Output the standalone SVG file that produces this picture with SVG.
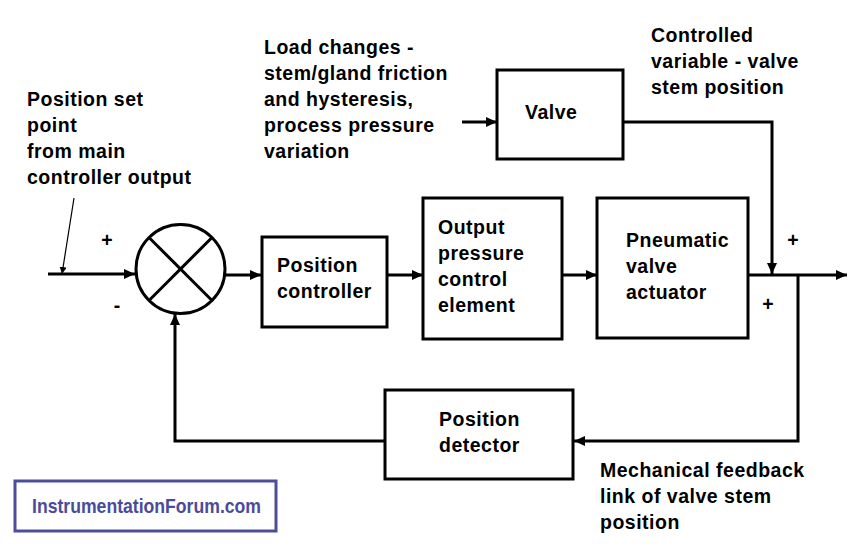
<svg xmlns="http://www.w3.org/2000/svg" width="861" height="558" viewBox="0 0 861 558">
<style>
.box{fill:#fff;stroke:#000;stroke-width:3}
.ln{fill:none;stroke:#000;stroke-width:3}
.t{font-family:"Liberation Sans",Arial,sans-serif;font-weight:bold;font-size:19.5px;letter-spacing:0.5px;fill:#000}
.sg{font-family:"Liberation Sans",Arial,sans-serif;font-weight:bold;font-size:19.5px;fill:#000}
</style>
<defs>
<marker id="ah" markerUnits="userSpaceOnUse" markerWidth="12" markerHeight="10" refX="11" refY="5" orient="auto">
<path d="M0,0 L11,5 L0,10 z" fill="#000"/>
</marker>
<marker id="ahs" markerUnits="userSpaceOnUse" markerWidth="8" markerHeight="8" refX="7" refY="3.5" orient="auto">
<path d="M0,0 L7,3.5 L0,7 z" fill="#000"/>
</marker>
</defs>
<rect width="861" height="558" fill="#fff"/>

<g id="connectors">
<line class="ln" x1="48" y1="274" x2="135" y2="274" marker-end="url(#ah)"/>
<line x1="74" y1="198" x2="62" y2="274" stroke="#000" stroke-width="1.2" marker-end="url(#ahs)"/>
<line class="ln" x1="225" y1="275" x2="261" y2="275" marker-end="url(#ah)"/>
<line class="ln" x1="387" y1="275" x2="423" y2="275" marker-end="url(#ah)"/>
<line class="ln" x1="562" y1="275" x2="597" y2="275" marker-end="url(#ah)"/>
<line class="ln" x1="748" y1="275" x2="847" y2="275" marker-end="url(#ah)"/>
<line class="ln" x1="462" y1="122" x2="497" y2="122" marker-end="url(#ah)"/>
<polyline class="ln" points="623,122 772,122 772,274" marker-end="url(#ah)"/>
<polyline class="ln" points="798,275 798,441 574,441" marker-end="url(#ah)"/>
<polyline class="ln" points="385,441 175,441 175,314" marker-end="url(#ah)"/>
</g>

<g id="summing-junction">
<circle cx="180.5" cy="269" r="44.5" fill="#fff" stroke="#000" stroke-width="3"/>
<line class="ln" x1="149" y1="237.5" x2="212" y2="300.5"/>
<line class="ln" x1="212" y1="237.5" x2="149" y2="300.5"/>
<text class="sg" x="107" y="247" text-anchor="middle">+</text>
<text class="sg" x="117" y="312" text-anchor="middle">-</text>
</g>

<g id="setpoint-label">
<text class="t" x="27" y="106"><tspan x="27">Position set</tspan><tspan x="27" dy="26">point</tspan><tspan x="27" dy="26">from main</tspan><tspan x="27" dy="26">controller output</tspan></text>
</g>

<g id="load-label">
<text class="t" x="264" y="54"><tspan x="264">Load changes -</tspan><tspan x="264" dy="26">stem/gland friction</tspan><tspan x="264" dy="26">and hysteresis,</tspan><tspan x="264" dy="26">process pressure</tspan><tspan x="264" dy="26">variation</tspan></text>
</g>

<g id="controlled-label">
<text class="t" x="651" y="42"><tspan x="651">Controlled</tspan><tspan x="651" dy="26">variable - valve</tspan><tspan x="651" dy="26">stem position</tspan></text>
</g>

<g id="valve">
<rect class="box" x="497" y="70" width="126" height="89"/>
<text class="t" x="525" y="119">Valve</text>
</g>

<g id="position-controller">
<rect class="box" x="262" y="237" width="125" height="90"/>
<text class="t" x="277" y="272"><tspan x="277">Position</tspan><tspan x="277" dy="26">controller</tspan></text>
</g>

<g id="output-pressure">
<rect class="box" x="423" y="198" width="139" height="141"/>
<text class="t" x="438" y="234"><tspan x="438">Output</tspan><tspan x="438" dy="26">pressure</tspan><tspan x="438" dy="26">control</tspan><tspan x="438" dy="26">element</tspan></text>
</g>

<g id="pneumatic-actuator">
<rect class="box" x="597" y="198" width="151" height="140"/>
<text class="t" x="626" y="247"><tspan x="626">Pneumatic</tspan><tspan x="626" dy="26">valve</tspan><tspan x="626" dy="26">actuator</tspan></text>
</g>

<g id="output-signs">
<text class="sg" x="793" y="247" text-anchor="middle">+</text>
<text class="sg" x="768" y="311" text-anchor="middle">+</text>
</g>

<g id="position-detector">
<rect class="box" x="385" y="390" width="188" height="89"/>
<text class="t" x="439" y="426"><tspan x="439">Position</tspan><tspan x="439" dy="26">detector</tspan></text>
</g>

<g id="feedback-label">
<text class="t" x="600" y="477"><tspan x="600">Mechanical feedback</tspan><tspan x="600" dy="26">link of valve stem</tspan><tspan x="600" dy="26">position</tspan></text>
</g>

<g id="watermark">
<rect x="15" y="481" width="261" height="50" fill="#fff" stroke="#4d4d9e" stroke-width="3"/>
<text x="32" y="513" font-family="'Liberation Sans',Arial,sans-serif" font-weight="bold" font-size="20.5" fill="#4b4b9b" textLength="229" lengthAdjust="spacingAndGlyphs">InstrumentationForum.com</text>
</g>
</svg>
